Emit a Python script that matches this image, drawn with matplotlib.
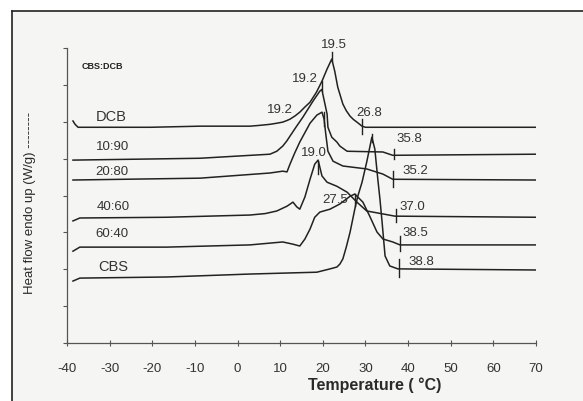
import matplotlib
matplotlib.use('Agg')
import matplotlib.pyplot as plt
from matplotlib.lines import Line2D

plt.rcParams['font.family'] = ['Liberation Sans', 'DejaVu Sans']

# DSC traces (temperature in C, heat flow in axis units)
dcb_t = [-38.6, -38.1, -37.4, -32.3, -20.5, -8.8, 2.9, 5.0, 7.6, 9.2, 10.6, 11.5, 12.3,
         13.5, 14.6, 15.8, 17.0, 18.5, 19.8, 21.0, 22.1, 22.8, 23.5, 24.7, 25.5, 26.4,
         27.2, 28.0, 29.2, 30.0, 70]
dcb_y = [6.02, 5.93, 5.85, 5.85, 5.85, 5.88, 5.88, 5.90, 5.93, 5.96, 5.99, 6.03, 6.07,
         6.16, 6.26, 6.40, 6.53, 6.80, 7.10, 7.43, 7.70, 7.37, 6.94, 6.48, 6.30, 6.15,
         6.06, 5.99, 5.88, 5.85, 5.85]

s1090_t = [-38.6, -20.5, -8.8, 7.6, 9.2, 10.6, 11.5, 12.3, 13.8, 15.3, 17.7, 19.3, 19.8,
           20.0, 21.0, 21.2, 22.1, 23.3, 24.0, 25.7, 34.1, 36.4, 70]
s1090_y = [4.96, 4.99, 5.01, 5.12, 5.20, 5.34, 5.47, 5.61, 5.87, 6.12, 6.56, 6.83, 6.88,
           6.75, 6.21, 5.85, 5.58, 5.45, 5.34, 5.20, 5.18, 5.09, 5.12]

s2080_t = [-38.6, -8.8, 7.6, 10.6, 11.6, 12.3, 13.4, 14.6, 17.0, 18.6, 19.8, 20.3, 20.7,
           21.2, 22.4, 24.7, 30.3, 34.1, 36.4, 70]
s2080_y = [4.42, 4.47, 4.61, 4.66, 4.64, 4.85, 5.15, 5.45, 5.96, 6.18, 6.26, 6.07, 5.66,
           5.20, 4.93, 4.80, 4.72, 4.58, 4.44, 4.42]

s4060_t = [-38.6, -37.0, -16.6, 2.9, 6.5, 9.2, 11.6, 13.0, 13.9, 14.6, 15.8, 17.0, 18.1,
           18.9, 19.8, 21.0, 23.3, 25.7, 28.0, 30.3, 34.1, 36.9, 70]
s4060_y = [3.31, 3.39, 3.41, 3.47, 3.51, 3.58, 3.71, 3.82, 3.69, 3.63, 3.96, 4.44, 4.85,
           4.96, 4.53, 4.36, 4.25, 4.09, 3.82, 3.58, 3.50, 3.44, 3.41]

s6040_t = [-38.6, -37.0, -16.6, 2.9, 10.6, 13.0, 14.6, 15.8, 17.0, 18.1, 19.3, 21.7,
           24.0, 26.4, 27.5, 29.4, 31.0, 32.7, 34.1, 36.4, 38.1, 70]
s6040_y = [2.49, 2.60, 2.60, 2.66, 2.74, 2.68, 2.63, 2.82, 3.09, 3.41, 3.55, 3.63,
           3.77, 3.98, 4.04, 3.82, 3.44, 3.01, 2.82, 2.74, 2.66, 2.66]

cbs_t = [-38.6, -37.0, -16.6, 2.9, 18.6, 21.7, 23.3, 24.0, 24.7, 25.5, 26.4, 27.5, 28.2,
         29.2, 30.3, 31.5, 32.2, 32.9, 33.4, 33.9, 34.6, 35.7, 37.6, 70]
cbs_y = [1.68, 1.76, 1.79, 1.87, 1.92, 2.01, 2.06, 2.14, 2.28, 2.60, 3.01, 3.63, 3.98,
         4.36, 4.91, 5.58, 5.26, 4.44, 3.90, 3.28, 2.36, 2.09, 2.01, 1.98]

curve_names = ['DCB', '10:90', '20:80', '40:60', '60:40', 'CBS']
name_t = [-29.7, -29.4, -29.4, -29.2, -29.4, -29.2]
name_y = [6.15, 5.34, 4.66, 3.71, 2.98, 2.09]

# peak / end markers: (temperature, y bottom, y top)
mark_t = [22.1, 19.7, 20.2, 18.9, 27.5, 29.2, 36.7, 36.4, 37.1, 38.1, 37.8, 31.5]
mark_y0 = [7.64, 6.83, 5.88, 4.58, 3.71, 5.66, 4.99, 4.23, 3.28, 2.49, 1.79, 5.45]
mark_y1 = [7.89, 7.10, 6.26, 4.93, 4.04, 6.07, 5.26, 4.66, 3.63, 2.90, 2.28, 5.66]

peak_labels = ['19.5', '19.2', '19.2', '19.0', '27.5', '26.8', '35.8', '35.2',
               '37.0', '38.5', '38.8']
peak_t = [22.6, 15.8, 9.9, 17.9, 22.8, 30.8, 40.2, 41.8, 40.9, 41.6, 43.2]
peak_y = [8.10, 7.18, 6.34, 5.18, 3.90, 6.26, 5.56, 4.69, 3.71, 3.01, 2.22]

xticks = [-40, -30, -20, -10, 0, 10, 20, 30, 40, 50, 60, 70]

fig = plt.figure(figsize=(5.83, 4.02), dpi=100)
fig.patch.set_facecolor('white')
bg = '#f5f5f3'
fig.patches.append(plt.Rectangle((12 / 583, 0), 1, 1 - 12 / 402, transform=fig.transFigure,
                                 facecolor=bg, edgecolor='none', zorder=-5))
fig.lines.append(Line2D([12 / 583, 1], [1 - 12 / 402, 1 - 12 / 402],
                        transform=fig.transFigure, color='#222222', lw=1.2))
fig.lines.append(Line2D([12 / 583, 12 / 583], [0, 1 - 12 / 402],
                        transform=fig.transFigure, color='#222222', lw=1.2))

ax = fig.add_axes([67 / 583, 1 - 344 / 402, (536 - 67) / 583, (344 - 49) / 402])
ax.set_facecolor('none')

lc = '#222222'
for t, y in [(dcb_t, dcb_y), (s1090_t, s1090_y), (s2080_t, s2080_y),
             (s4060_t, s4060_y), (s6040_t, s6040_y), (cbs_t, cbs_y)]:
    ax.plot(t, y, color=lc, lw=1.1, solid_joinstyle='round')

for t, y0, y1 in zip(mark_t, mark_y0, mark_y1):
    ax.plot([t, t], [y0, y1], color=lc, lw=1.0)

for s, t, y in zip(peak_labels, peak_t, peak_y):
    ax.text(t, y, s, ha='center', va='center', fontsize=9.5, color='#333333', clip_on=False)

for s, t, y in zip(curve_names, name_t, name_y):
    ax.text(t, y, s, ha='center', va='center', fontsize=10.5 if s in ('DCB', 'CBS') else 9.5,
            color='#333333')

ax.text(-31.8, 7.53, 'CBS:DCB', ha='center', va='center', fontsize=6.5,
        fontweight='bold', color='#222222')

ax.set_xlim(-40, 70)
ax.set_ylim(0, 8)
ax.set_xticks(xticks)
ax.set_xticklabels([str(v) for v in xticks])
ax.set_yticks(range(9))
ax.set_yticklabels([])
ax.spines['top'].set_visible(False)
ax.spines['right'].set_visible(False)
for side in ('left', 'bottom'):
    ax.spines[side].set_color('#555555')
    ax.spines[side].set_linewidth(0.9)
ax.tick_params(axis='x', direction='inout', length=4, width=0.8, colors='#555555',
               labelcolor='#333333', labelsize=9.5, pad=12)
ax.tick_params(axis='y', direction='out', length=3, width=0.8, colors='#555555')

fig.text(375 / 583, 1 - 385 / 402, 'Temperature ( °C)', ha='center', va='center',
         fontsize=11.5, fontweight='bold', color='#2a2a2a')
fig.text(30 / 583, 1 - 203 / 402, 'Heat flow endo up (W/g) --------', ha='center',
         va='center', rotation=90, fontsize=9.5, color='#2a2a2a')

fig.savefig('out.png', dpi=100, facecolor=fig.get_facecolor())
